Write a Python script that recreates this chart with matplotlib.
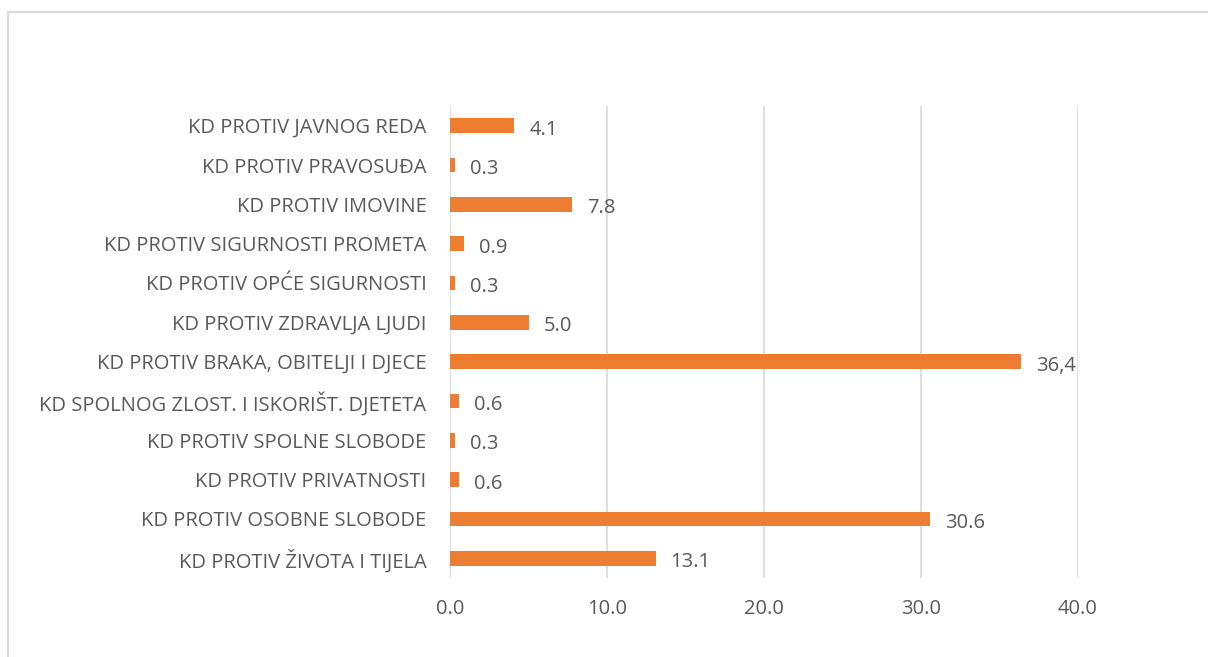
import matplotlib.pyplot as plt
from matplotlib.patches import Rectangle

categories = ["KD PROTIV ŽIVOTA I TIJELA", "KD PROTIV OSOBNE SLOBODE",
              "KD PROTIV PRIVATNOSTI", "KD PROTIV SPOLNE SLOBODE",
              "KD SPOLNOG ZLOST. I ISKORIŠT. DJETETA",
              "KD PROTIV BRAKA, OBITELJI I DJECE", "KD PROTIV ZDRAVLJA LJUDI",
              "KD PROTIV OPĆE SIGURNOSTI", "KD PROTIV SIGURNOSTI PROMETA",
              "KD PROTIV IMOVINE", "KD PROTIV PRAVOSUĐA", "KD PROTIV JAVNOG REDA"]
values = [13.1, 30.6, 0.6, 0.3, 0.6, 36.4, 5.0, 0.3, 0.9, 7.8, 0.3, 4.1]
value_labels = ["13.1", "30.6", "0.6", "0.3", "0.6", "36,4", "5.0", "0.3", "0.9", "7.8", "0.3", "4.1"]
xticks = [0, 10, 20, 30, 40]

plt.rcParams['font.family'] = ['Open Sans', 'DejaVu Sans']
txt = '#595959'
fs = 14.5

fig = plt.figure(figsize=(12.08, 6.57), dpi=100)
ax = fig.add_axes([450/1208, 1 - 578/657, 628/1208, 472/657])

ypos = list(range(len(categories)))
ax.barh(ypos, values, height=0.37, color='#ED7D31', zorder=3)
for y, v, lab in zip(ypos, values, value_labels):
    ax.text(v + 0.95, y - 0.1, lab, va='center', ha='left', fontsize=fs, color=txt)

ax.set_xlim(0, 40)
ax.set_ylim(-0.5, len(categories) - 0.5)
ax.set_xticks(xticks)
ax.set_xticklabels([f"{t:.1f}" for t in xticks])
ax.set_yticks(ypos)
ax.set_yticklabels(categories)
ax.tick_params(axis='both', length=0, labelsize=fs, labelcolor=txt)
ax.tick_params(axis='x', pad=15)
ax.tick_params(axis='y', pad=17)
ax.grid(axis='x', color='#D9D9D9', linewidth=1.2, zorder=0)
for s in ax.spines.values():
    s.set_visible(False)

fig.patches.append(Rectangle((8/1208, -0.1), 1.2, 0.1 + 1 - 12/657, transform=fig.transFigure,
                             fill=False, edgecolor='#D9D9D9', linewidth=1.5))

fig.savefig('out.png', dpi=100)
